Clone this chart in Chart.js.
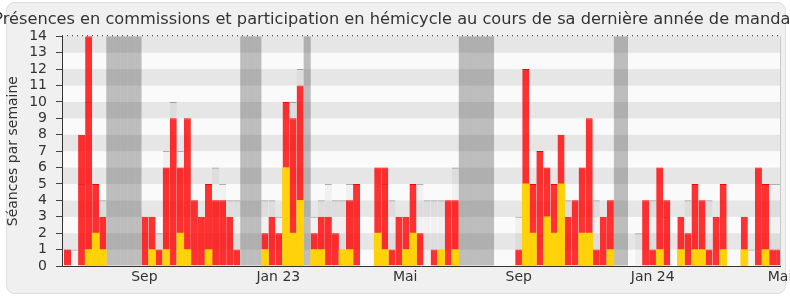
<!DOCTYPE html>
<html lang="fr">
<head>
<meta charset="utf-8">
<title>Présences en commissions et participation en hémicycle</title>
<script src="https://cdn.jsdelivr.net/npm/chart.js@4.4.1/dist/chart.umd.min.js"></script>
<style>
  html, body { margin: 0; padding: 0; background: #fff; }
  canvas { display: block; }
</style>
</head>
<body>
<canvas id="chart" width="790" height="300"></canvas>
<script>
// une valeur par semaine, de juin 2022 à juin 2024
const presencesCommission = [
  1, 0, 8, 14, 5, 3, 0, 0, 0, 0,
  0, 3, 3, 1, 6, 9, 6, 9, 4, 3,
  5, 4, 4, 3, 1, 0, 0, 0, 2, 3,
  2, 10, 9, 11, 0, 2, 3, 3, 2, 0,
  4, 5, 0, 0, 6, 6, 1, 3, 3, 5,
  2, 0, 1, 0, 4, 4, 0, 0, 0, 0,
  0, 0, 0, 0, 1, 12, 5, 7, 6, 5,
  8, 3, 4, 6, 9, 1, 3, 4, 0, 0,
  0, 0, 4, 1, 6, 4, 0, 3, 2, 5,
  4, 1, 3, 5, 0, 0, 3, 0, 6, 5,
  1, 1
];
const participationHemicycle = [
  0, 0, 0, 1, 2, 1, 0, 0, 0, 0,
  0, 0, 1, 0, 1, 0, 2, 1, 0, 0,
  1, 0, 0, 0, 0, 0, 0, 0, 1, 0,
  0, 6, 2, 4, 0, 1, 1, 0, 0, 1,
  1, 0, 0, 0, 2, 1, 0, 0, 1, 2,
  0, 0, 0, 1, 0, 1, 0, 0, 0, 0,
  0, 0, 0, 0, 0, 5, 2, 0, 3, 2,
  5, 0, 0, 2, 2, 0, 0, 1, 0, 0,
  0, 0, 0, 0, 1, 0, 0, 1, 0, 1,
  1, 0, 0, 1, 0, 0, 1, 0, 0, 1,
  0, 0
];
const medianeDeputes = [
  1, 1, 5, 10, 5, 4, 0, 0, 0, 0,
  0, 2, 0, 2, 7, 10, 7, 0, 0, 0,
  0, 6, 5, 4, 4, 0, 0, 0, 4, 4,
  3, 0, 10, 12, 0, 3, 4, 5, 4, 4,
  5, 0, 0, 0, 0, 5, 4, 0, 0, 0,
  5, 4, 4, 4, 0, 6, 0, 0, 0, 0,
  0, 0, 0, 0, 3, 0, 0, 0, 0, 0,
  0, 4, 0, 0, 0, 4, 0, 0, 0, 0,
  0, 2, 0, 4, 0, 3, 0, 0, 4, 0,
  0, 4, 0, 0, 0, 0, 0, 1, 0, 0,
  5, 5
];
const vacances = [
  0, 0, 0, 0, 0, 0, 14, 14, 14, 14,
  14, 0, 0, 0, 0, 0, 0, 0, 0, 0,
  0, 0, 0, 0, 0, 14, 14, 14, 0, 0,
  0, 0, 0, 0, 14, 0, 0, 0, 0, 0,
  0, 0, 0, 0, 0, 0, 0, 0, 0, 0,
  0, 0, 0, 0, 0, 0, 14, 14, 14, 14,
  14, 0, 0, 0, 0, 0, 0, 0, 0, 0,
  0, 0, 0, 0, 0, 0, 0, 0, 14, 14,
  0, 0, 0, 0, 0, 0, 0, 0, 0, 0,
  0, 0, 0, 0, 0, 0, 0, 0, 0, 0,
  0, 0
];
const tickPositions = [10.9, 29.9, 47.9, 64, 83, 101.06];
const tickLabels = ["Sep", "Jan 23", "Mai", "Sep", "Jan 24", "Mai"];

const toPoints = arr => arr.map((v, i) => ({ x: i, y: v || null }));
const topBorder = { top: 1, right: 0, bottom: 0, left: 0 };

const fond = {
  id: "fond",
  beforeDraw(chart) {
    const { ctx, chartArea: a, scales: { y } } = chart;
    ctx.save();
    ctx.fillStyle = "#fff";
    ctx.fillRect(0, 0, chart.width, chart.height);
    ctx.beginPath();
    ctx.roundRect(6.5, 2.5, 779, 291, 8);
    ctx.fillStyle = "#f0f0f0";
    ctx.fill();
    ctx.strokeStyle = "#dedede";
    ctx.stroke();
    for (let n = 0; n < 14; n++) {
      const top = y.getPixelForValue(n + 1);
      const bottom = y.getPixelForValue(n);
      ctx.fillStyle = n % 2 ? "#e6e6e6" : "#fafafa";
      ctx.fillRect(a.left, top, a.right - a.left, bottom - top);
    }
    ctx.restore();
  },
  afterDatasetsDraw(chart) {
    const { ctx, chartArea: a } = chart;
    ctx.save();
    ctx.strokeStyle = "#c8c8c8";
    ctx.beginPath();
    ctx.moveTo(a.right + 0.5, a.top);
    ctx.lineTo(a.right + 0.5, a.bottom);
    ctx.stroke();
    ctx.strokeStyle = "#222";
    ctx.setLineDash([1, 4]);
    ctx.beginPath();
    ctx.moveTo(a.left, a.top - 0.5);
    ctx.lineTo(a.right, a.top - 0.5);
    ctx.stroke();
    ctx.restore();
  }
};

Chart.defaults.font.family = "'DejaVu Sans', sans-serif";
Chart.defaults.color = "#333";

new Chart(document.getElementById("chart"), {
  type: "bar",
  data: {
    datasets: [
      {
        label: "Participation en hémicycle",
        data: toPoints(participationHemicycle),
        backgroundColor: "rgb(255, 210, 10)",
        order: 1
      },
      {
        label: "Présences en commission",
        data: toPoints(presencesCommission),
        backgroundColor: "rgba(255, 0, 0, 0.8)",
        borderColor: "rgb(255, 0, 0)",
        borderWidth: topBorder,
        inflateAmount: 0,
        order: 2
      },
      {
        label: "Médiane des députés",
        data: toPoints(medianeDeputes),
        backgroundColor: "rgba(0, 0, 0, 0.035)",
        borderColor: "rgba(0, 0, 0, 0.3)",
        borderWidth: topBorder,
        inflateAmount: 0,
        order: 3
      },
      {
        label: "Vacances parlementaires",
        data: toPoints(vacances),
        backgroundColor: "rgba(50, 50, 50, 0.3)",
        inflateAmount: 0,
        order: 4
      }
    ]
  },
  options: {
    responsive: false,
    animation: false,
    // marges négatives : le titre déborde du cadre comme sur l'original
    layout: { padding: { left: -10, right: -10, top: 0, bottom: 0 } },
    datasets: {
      bar: { grouped: false, barPercentage: 1, categoryPercentage: 1, clip: 0 }
    },
    plugins: {
      legend: { display: false },
      tooltip: { enabled: false },
      title: {
        display: true,
        text: "Présences en commissions et participation en hémicycle au cours de sa dernière année de mandat",
        color: "#333",
        font: { size: 16.2, weight: "normal" },
        padding: { top: 10.4, bottom: 6.4 }
      }
    },
    scales: {
      x: {
        type: "linear",
        offset: false,
        min: -0.78,
        max: 101.06,
        afterBuildTicks: s => { s.ticks = tickPositions.map(v => ({ value: v })); },
        afterFit: s => { s.height = 34; s.paddingLeft = 0; s.paddingRight = 0; },
        grid: { display: false, drawTicks: false, offset: false },
        border: { display: true, color: "#333" },
        ticks: {
          autoSkip: false,
          maxRotation: 0,
          padding: 3,
          font: { size: 14 },
          callback: (v, i) => tickLabels[i]
        }
      },
      y: {
        min: 0,
        max: 14,
        afterFit: s => { s.width = 72; },
        grid: { drawOnChartArea: false, tickLength: 6, tickColor: "#444" },
        border: { color: "#333" },
        ticks: { stepSize: 1, autoSkip: false, padding: 9, font: { size: 14 } },
        title: {
          display: true,
          text: "Séances par semaine",
          font: { size: 14 },
          padding: { top: 14.6, bottom: 0 }
        }
      },
      y2: {
        position: "right",
        afterFit: s => { s.width = 20; },
        grid: { display: false, drawTicks: false },
        border: { display: false },
        ticks: { display: false }
      }
    }
  },
  plugins: [fond]
});
</script>
</body>
</html>
